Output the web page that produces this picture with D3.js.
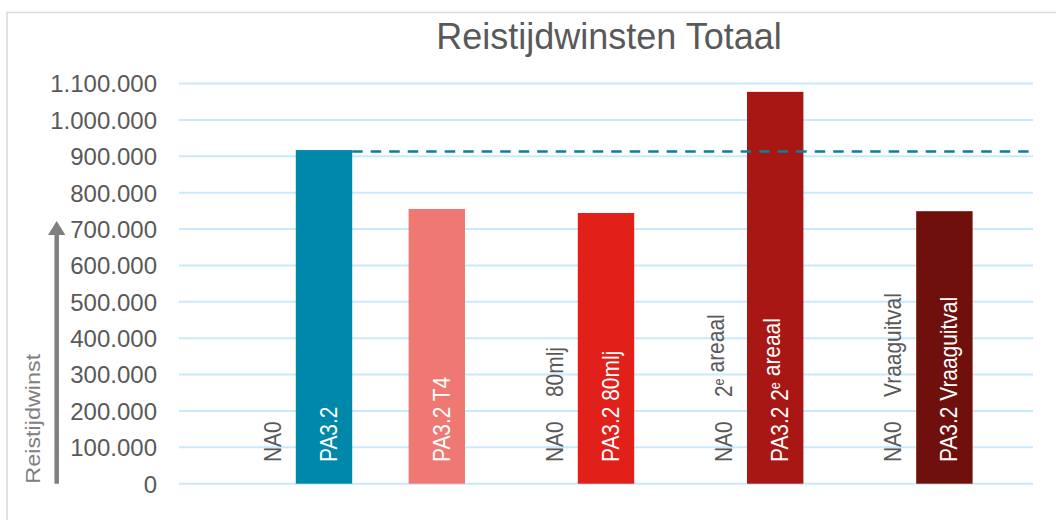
<!DOCTYPE html>
<html>
<head>
<meta charset="utf-8">
<script src="https://cdn.jsdelivr.net/npm/d3@7"></script>
<style>
  html, body { margin: 0; padding: 0; background: #fff; }
  svg { display: block; }
  text { font-family: "Liberation Sans", Arial, sans-serif; }
</style>
</head>
<body>
<svg id="chart" width="1056" height="520"></svg>
<script>
// ---- data ----
const title = "Reistijdwinsten Totaal";
const yAxisTitle = "Reistijdwinst";
const categories = ["NA0", "PA3.2", "PA3.2 T4", "NA0 80mlj", "PA3.2 80mlj",
                    "NA0 2e areaal", "PA3.2 2e areaal", "NA0 Vraaguitval", "PA3.2 Vraaguitval"];
const groupOf = [0, 0, 1, 2, 2, 3, 3, 4, 4];
const values = [0, 917000, 755000, 0, 744000, 0, 1077000, 0, 749000];
const barColors = ["#0088AA", "#0088AA", "#F07873", "#E2201A", "#E2201A",
                   "#A81714", "#A81714", "#70100D", "#70100D"];
const referenceValue = 913000;   // dashed line at the PA3.2 level
const yTicks = [0, 100000, 200000, 300000, 400000, 500000, 600000,
                700000, 800000, 900000, 1000000, 1100000];

// ---- layout ----
const svg = d3.select("#chart");
const plotLeft = 179, plotRight = 1033;
const bandLeft = 183, bandRight = 1029;
const yBottom = 483.7, yTop = 83.5;

// frame
svg.append("rect")
  .attr("x", 7).attr("y", 12.5)
  .attr("width", 1060).attr("height", 520)
  .attr("fill", "#fff").attr("stroke", "#d9d9d9").attr("stroke-width", 1.5);

// slots: a gap before each group, then its bars, and a closing gap
const slots = [];
const nGroups = d3.max(groupOf) + 1;
for (let g = 0; g < nGroups; g++) {
  slots.push("gap" + g);
  categories.forEach((c, i) => { if (groupOf[i] === g) slots.push(c); });
}
slots.push("gapEnd");

const x = d3.scaleBand().domain(slots).range([bandLeft, bandRight]).padding(0);
const y = d3.scaleLinear().domain([0, 1100000]).range([yBottom, yTop]);

const nl = d3.formatLocale({decimal: ",", thousands: ".", grouping: [3], currency: ["€", ""]});
const fmt = nl.format(",d");

// gridlines
svg.append("g").selectAll("line").data(yTicks).join("line")
  .attr("x1", plotLeft).attr("x2", plotRight)
  .attr("y1", d => y(d)).attr("y2", d => y(d))
  .attr("stroke", "#c8eafa").attr("stroke-width", 2);

// y axis labels
const yAxis = d3.axisLeft(y).tickValues(yTicks).tickFormat(fmt).tickSize(0).tickPadding(0);
const yg = svg.append("g").attr("transform", `translate(157,0)`).call(yAxis);
yg.select(".domain").remove();
yg.selectAll("text")
  .attr("fill", "#595959")
  .style("font-size", "24px")
  .style("font-family", "'Liberation Sans', Arial, sans-serif")
  .attr("dy", "0.35em");

// bars
svg.append("g").selectAll("rect").data(categories).join("rect")
  .attr("x", d => x(d))
  .attr("width", x.bandwidth())
  .attr("y", (d, i) => y(values[i]))
  .attr("height", (d, i) => y(0) - y(values[i]))
  .attr("fill", (d, i) => barColors[i]);

// dashed reference line from the right edge of the first PA3.2 bar
svg.append("line")
  .attr("x1", x("PA3.2") + x.bandwidth())
  .attr("x2", bandRight)
  .attr("y1", y(referenceValue)).attr("y2", y(referenceValue))
  .attr("stroke", "#0b7f9f").attr("stroke-width", 2.6)
  .attr("stroke-dasharray", "10.5,8");

// rotated labels
const labelBase = 462;
const sx = 0.91;
function writeLabel(sel, str) {
  const toks = str.split(" ");
  toks.forEach((t, k) => {
    const prefix = k > 0 ? " " : "";
    const m = t.match(/^(\d)e$/);
    if (m) {
      sel.append("tspan").text(prefix + m[1]);
      sel.append("tspan").text("e").style("font-size", "14px").attr("dy", "-8");
      sel.append("tspan").text("").attr("dy", "8");
    } else {
      sel.append("tspan").text(prefix + t);
    }
  });
}
categories.forEach((c, i) => {
  const cx = x(c) + x.bandwidth() / 2 + 13;
  const isNA = c.startsWith("NA0");
  const g = svg.append("g")
    .attr("transform", `translate(${cx},${labelBase}) rotate(-90) scale(${sx},1)`);
  const col = isNA ? "#595959" : "#ffffff";
  if (isNA) {
    g.append("text").attr("x", 0).attr("y", 0).attr("fill", col)
      .style("font-size", "23px").text("NA0");
    const rest = c.slice(3).trim();
    if (rest) {
      const t = g.append("text").attr("x", 65 / sx).attr("y", 0).attr("fill", col)
        .style("font-size", "23px");
      writeLabel(t, rest);
    }
  } else {
    const t = g.append("text").attr("x", 0).attr("y", 0).attr("fill", col)
      .style("font-size", "23px");
    writeLabel(t, c);
  }
});

// y axis title with arrow
svg.append("line")
  .attr("x1", 56.7).attr("x2", 56.7)
  .attr("y1", yBottom).attr("y2", 234)
  .attr("stroke", "#7f7f7f").attr("stroke-width", 4.5);
svg.append("path")
  .attr("d", "M48,235 L56.7,221 L65.4,235 Z")
  .attr("fill", "#7f7f7f");
svg.append("text")
  .attr("transform", `translate(39.5,${yBottom}) rotate(-90) scale(1.17,1)`)
  .attr("fill", "#808080")
  .style("font-size", "20px")
  .text(yAxisTitle);

// title
svg.append("text")
  .attr("x", 609).attr("y", 49)
  .attr("text-anchor", "middle")
  .attr("fill", "#595959")
  .style("font-size", "36px")
  .text(title);
</script>
</body>
</html>
